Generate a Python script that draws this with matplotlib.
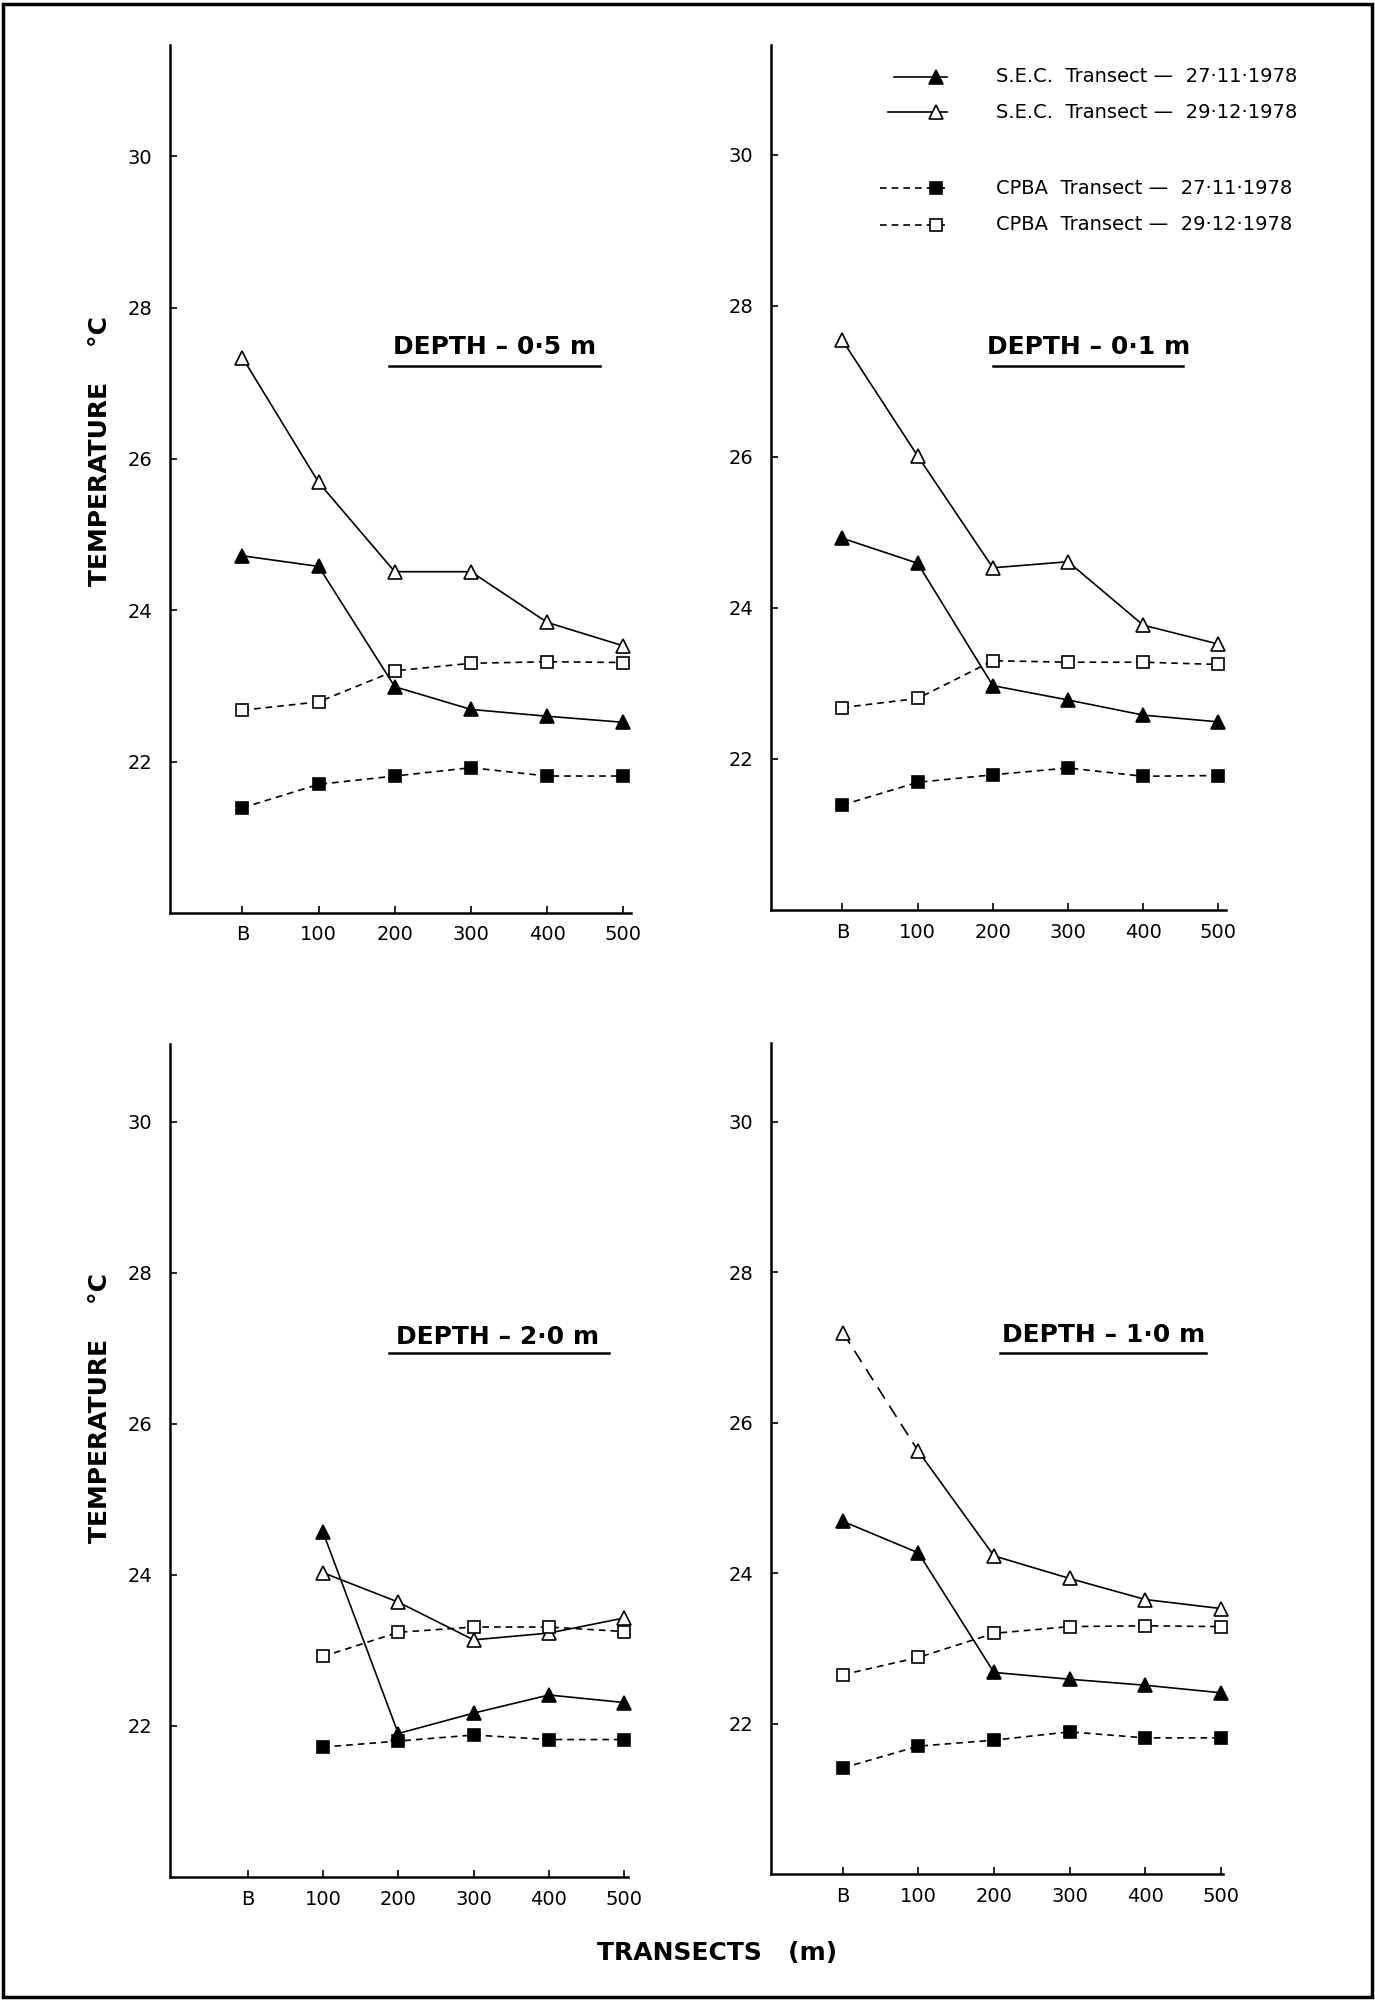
import matplotlib
matplotlib.use("Agg")
import matplotlib.pyplot as plt
from matplotlib.lines import Line2D
from matplotlib.patches import Rectangle
import numpy as np

W, H = 1375, 2001

# transect stations (B = bank, then metres offshore)
stations = ["B", "100", "200", "300", "400", "500"]
ypos = [0, 1, 2, 3, 4, 5]

# depth 0.5 m (top left)
sec_nov_05 = [24.72, 24.58, 22.99, 22.69, 22.60, 22.52]
sec_dec_05 = [27.34, 25.69, 24.51, 24.51, 23.84, 23.53]
cpba_nov_05 = [21.39, 21.70, 21.81, 21.92, 21.81, 21.81]
cpba_dec_05 = [22.68, 22.79, 23.20, 23.30, 23.32, 23.31]

# depth 0.1 m (top right)
sec_nov_01 = [24.92, 24.59, 22.97, 22.78, 22.58, 22.49]
sec_dec_01 = [27.54, 26.01, 24.53, 24.61, 23.77, 23.52]
cpba_nov_01 = [21.39, 21.69, 21.79, 21.88, 21.77, 21.78]
cpba_dec_01 = [22.68, 22.80, 23.30, 23.28, 23.28, 23.25]

# depth 2.0 m (bottom left), no reading at B
sec_nov_20 = [None, 24.57, 21.90, 22.17, 22.41, 22.31]
sec_dec_20 = [None, 24.03, 23.64, 23.14, 23.23, 23.43]
cpba_nov_20 = [None, 21.72, 21.80, 21.88, 21.82, 21.82]
cpba_dec_20 = [None, 22.92, 23.24, 23.31, 23.31, 23.25]

# depth 1.0 m (bottom right)
sec_nov_10 = [24.69, 24.27, 22.68, 22.59, 22.51, 22.41]
sec_dec_10 = [27.20, 25.62, 24.23, 23.93, 23.65, 23.53]
cpba_nov_10 = [21.41, 21.70, 21.78, 21.89, 21.81, 21.81]
cpba_dec_10 = [22.65, 22.88, 23.20, 23.29, 23.30, 23.29]

yticks = [22, 24, 26, 28, 30]

legend_labels = ["S.E.C.  Transect \u2014  27\u00b711\u00b71978",
                 "S.E.C.  Transect \u2014  29\u00b712\u00b71978",
                 "CPBA  Transect \u2014  27\u00b711\u00b71978",
                 "CPBA  Transect \u2014  29\u00b712\u00b71978"]

plt.rcParams['font.family'] = ['DejaVu Sans']

fig = plt.figure(figsize=(W / 100, H / 100), dpi=100)


def box(l, t, r, b):
    return [l / W, 1 - b / H, (r - l) / W, (b - t) / H]


dash = (0, (4, 3))
styles = [
    dict(ls='-', marker='^', mfc='black', mec='black'),
    dict(ls='-', marker='^', mfc='white', mec='black'),
    dict(ls=dash, marker='s', mfc='black', mec='black'),
    dict(ls=dash, marker='s', mfc='white', mec='black'),
]


def to_arr(vals):
    return np.array([np.nan if v is None else v for v in vals], dtype=float)


def panel(rect, series, ylim, xlim, label, lab_xy, ul, long_dash_first=False):
    ax = fig.add_axes(box(*rect))
    for i, vals in enumerate(series):
        y = to_arr(vals)
        st = styles[i]
        ms = 10 if st['marker'] == '^' else 9
        if long_dash_first and i == 1:
            ax.plot(ypos[:2], y[:2], color='black', lw=1.2, ls=(0, (8, 5)), clip_on=False)
            ax.plot(ypos[1:], y[1:], color='black', lw=1.2, ls='-', clip_on=False)
            ax.plot(ypos, y, ls='none', marker=st['marker'], ms=ms,
                    mfc=st['mfc'], mec=st['mec'], mew=1.2, clip_on=False)
        else:
            ax.plot(ypos, y, color='black', lw=1.2, ls=st['ls'],
                    marker=st['marker'], ms=ms,
                    mfc=st['mfc'], mec=st['mec'], mew=1.2, clip_on=False)
    ax.set_xlim(*xlim)
    ax.set_ylim(*ylim)
    ax.set_xticks(ypos)
    ax.set_xticklabels(stations, fontsize=14)
    ax.set_yticks(yticks)
    ax.set_yticklabels([str(v) for v in yticks], fontsize=14)
    ax.tick_params(direction='in', length=5, width=1.2, pad=9)
    ax.tick_params(axis='y', pad=13)
    for s in ['top', 'right']:
        ax.spines[s].set_visible(False)
    for s in ['left', 'bottom']:
        ax.spines[s].set_linewidth(1.8)
    ax.text(lab_xy[0], lab_xy[1], label, transform=ax.transAxes,
            ha='center', va='center', fontsize=18, fontweight='bold')
    ax.plot([ul[0], ul[1]], [ul[2], ul[2]], transform=ax.transAxes,
            color='black', lw=1.8, clip_on=False)
    return ax


ax1 = panel((170, 45, 631, 913), [sec_nov_05, sec_dec_05, cpba_nov_05, cpba_dec_05],
            (20, 31.47), (-0.95, 5.1), "DEPTH \u2013 0\u00b75 m",
            (0.703, 0.652), (0.475, 0.933, 0.630))
ax2 = panel((771, 45, 1226, 910), [sec_nov_01, sec_dec_01, cpba_nov_01, cpba_dec_01],
            (20, 31.45), (-0.95, 5.1), "DEPTH \u2013 0\u00b71 m",
            (0.697, 0.651), (0.488, 0.905, 0.629))
ax3 = panel((170, 1044, 628, 1877), [sec_nov_20, sec_dec_20, cpba_nov_20, cpba_dec_20],
            (20, 31.03), (-1.03, 5.05), "DEPTH \u2013 2\u00b70 m",
            (0.716, 0.648), (0.478, 0.959, 0.629))
ax4 = panel((771, 1043, 1223, 1874), [sec_nov_10, sec_dec_10, cpba_nov_10, cpba_dec_10],
            (20, 31.05), (-0.95, 5.03), "DEPTH \u2013 1\u00b70 m",
            (0.737, 0.649), (0.506, 0.962, 0.627), long_dash_first=True)

# y labels
fig.text(100 / W, 1 - 451 / H, "TEMPERATURE    \u00b0C", rotation=90,
         ha='center', va='center', fontsize=18, fontweight='bold')
fig.text(100 / W, 1 - 1408 / H, "TEMPERATURE    \u00b0C", rotation=90,
         ha='center', va='center', fontsize=18, fontweight='bold')
fig.text(717 / W, 1 - 1953 / H, "TRANSECTS   (m)", ha='center', va='center',
         fontsize=18, fontweight='bold')

# legend drawn by hand inside top right panel
leg_y = [77, 112, 188, 225]
leg_x0 = [894, 888, 880, 880]
for i, lab in enumerate(legend_labels):
    st = styles[i]
    yy = 1 - leg_y[i] / H
    fig.add_artist(Line2D([leg_x0[i] / W, 947 / W], [yy, yy], color='black',
                          lw=1.2, ls=st['ls']))
    fig.add_artist(Line2D([936 / W], [yy], ls='none', marker=st['marker'],
                          ms=10 if st['marker'] == '^' else 9,
                          mfc=st['mfc'], mec=st['mec'], mew=1.2))
    fig.text(996 / W, yy, lab, ha='left', va='center', fontsize=14)

# outer frame
fig.add_artist(Rectangle((0.002, 0.002), 0.996, 0.996, transform=fig.transFigure,
                         fill=False, lw=2.5, color='black'))

fig.savefig("out.png", dpi=100)
